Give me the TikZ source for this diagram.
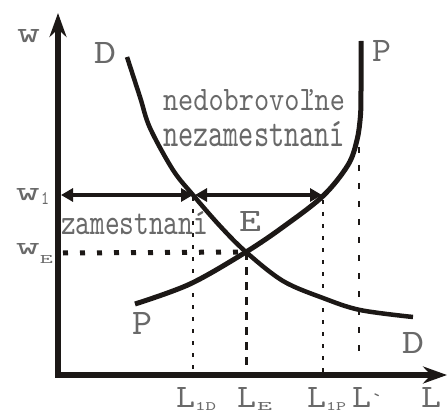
\documentclass[tikz,border=0pt]{standalone}
\usepackage{fontspec}
\usetikzlibrary{arrows.meta}
\definecolor{tg}{RGB}{105,105,105}
\definecolor{ink}{RGB}{28,24,22}
\newcommand\fitbox[3]{\resizebox{#1pt}{#2pt}{\ttfamily #3}}
\begin{document}
\begin{tikzpicture}[x=1pt,y=-1pt,
  lbl/.style={inner sep=0pt, outer sep=0pt, anchor=base west, text=tg},
  axis/.style={draw=ink, line width=5.5pt, -{Stealth[length=24pt,width=17pt,inset=8pt]}},
  curveP/.style={draw=ink, line width=5pt},
  curveD/.style={draw=ink, line width=4.5pt},
  dbl/.style={draw=ink, line width=3.5pt, {Triangle[length=12pt,width=13pt]}-{Triangle[length=12pt,width=13pt]}},
  thindash/.style={draw=ink, line width=1.2pt, dash pattern=on 4pt off 8pt},
  thickdash/.style={draw=ink, line width=3pt, dash pattern=on 8pt off 7pt},
  ldash/.style={draw=ink, line width=2.8pt, dash pattern=on 6pt off 12pt},
  dotline/.style={draw=ink, line width=5pt, dash pattern=on 5pt off 12pt}]
\useasboundingbox (0,0) rectangle (447,414);
% key coordinates
\coordinate (O) at (58,375);
\coordinate (Ytop) at (58,13);
\coordinate (Xend) at (447,375);
\coordinate (Ept) at (246,252);
\coordinate (A1) at (61,195);
\coordinate (A2) at (193,195);
\coordinate (A3) at (195,195);
\coordinate (A4) at (322,195);
% curves
\draw[curveD] plot[smooth, tension=0.55] coordinates {(127,57) (140,97) (150,128) (173,170) (193,195) (220,226) (246,252) (283,281) (323,298) (360,310) (413,317)};
\draw[curveP] plot[smooth, tension=0.55] coordinates {(135,304) (190,284) (246,252) (283,227) (323,196) (348,165) (357,140) (360.5,115) (361,90) (361,41)};
% guide lines
\draw[thindash] (193,197) -- (193,375);
\draw[thindash] (323,200) -- (323,375);
\draw[thickdash] (Ept) -- (246,375);
\draw[ldash] (359,147) -- (359,357);
\draw[dotline] (63,253) -- (Ept);
% double arrows
\draw[dbl] (A1) -- (A2);
\draw[dbl] (A3) -- (A4);
% axes
\draw[axis] (58,377.5) -- (Ytop);
\draw[axis] (55.3,375) -- (Xend);
% labels
\node[lbl] (w) at (17,43) {\fitbox{23}{13}{w}};
\node[lbl] (Dt) at (94,64) {\fitbox{22}{21}{D}};
\node[lbl] (Pt) at (372,62) {\fitbox{19}{21}{P}};
\node[lbl] (nd1) at (163,111) {\fitbox{182}{21}{nedobrovoľne}};
\node[lbl] (nd2) at (163,147) {\fitbox{182}{25}{nezamestnaní}};
\node[lbl] (w1) at (16,201) {\fitbox{24}{12}{w}\hspace{1pt}\raisebox{-3pt}{\fitbox{8}{12}{1}}};
\node[lbl] (wE) at (16,254) {\fitbox{24}{11}{w}\raisebox{-10pt}{\fitbox{13}{8}{E}}};
\node[lbl] (zam) at (61,235) {\fitbox{147}{23}{zamestnaní}};
\node[lbl] (E) at (239,231) {\fitbox{22}{20}{E}};
\node[lbl] (Pb) at (132,334) {\fitbox{20}{22}{P}};
\node[lbl] (Db) at (402,353) {\fitbox{22}{21}{D}};
\node[lbl] (L1D) at (176,407) {\fitbox{19}{20}{L}\raisebox{-3pt}{\fitbox{21}{8}{1D}}};
\node[lbl] (LE) at (237,407) {\fitbox{19}{20}{L}\hspace{1pt}\raisebox{-3pt}{\fitbox{15}{8}{E}}};
\node[lbl] (L1P) at (307,407) {\fitbox{19}{20}{L}\raisebox{-3pt}{\fitbox{20}{8}{1P}}};
\node[lbl] (Lp) at (352,407) {\fitbox{19}{20}{L}{\ttfamily\fontsize{22pt}{22pt}\selectfont\symbol{96}}};
\node[lbl] (L) at (421,407) {\fitbox{20}{20}{L}};
\end{tikzpicture}
\end{document}
